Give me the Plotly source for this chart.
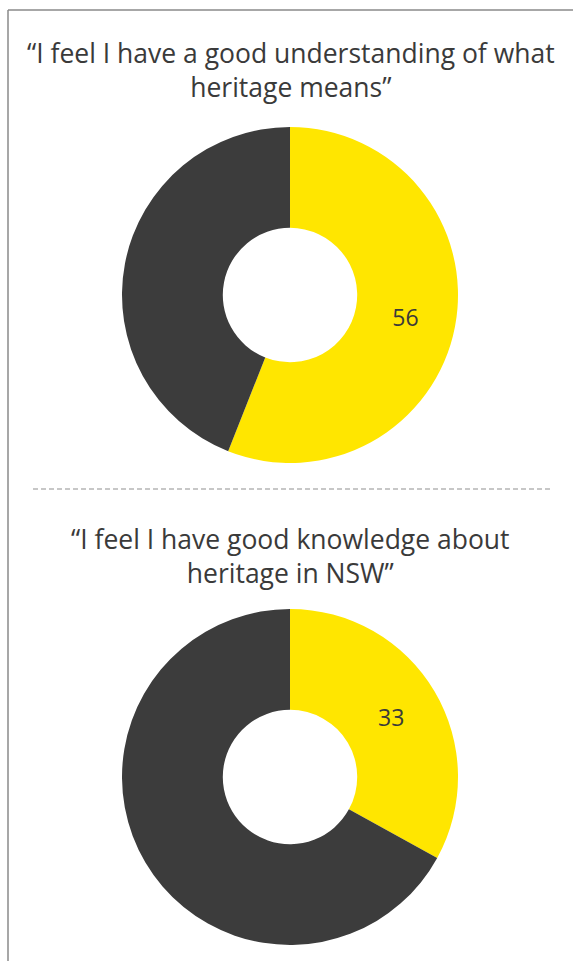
import plotly.graph_objects as go

# Survey responses: share agreeing vs. the rest (%)
questions = [
    "“I feel I have a good understanding of what<br>heritage means”",
    "“I feel I have good knowledge about<br>heritage in NSW”",
]
agree = [56, 33]
rest = [44, 67]

YELLOW = "#FFE600"
DARK = "#3C3C3C"
TEXT = "#3A3A3A"

W, H = 573, 961

# Pie placement (pixel boxes converted to paper fractions)
pie_boxes = [(122, 127, 458, 463), (122, 609, 458, 945)]
title_y = [70, 556]

fig = go.Figure()
for i, (a, r) in enumerate(zip(agree, rest)):
    x0, y0, x1, y1 = pie_boxes[i]
    fig.add_trace(go.Pie(
        values=[a, r],
        labels=["Agree", "Other"],
        text=[str(a), ""],
        textinfo="text",
        insidetextorientation="horizontal",
        textfont=dict(family="Open Sans, sans-serif", size=23, color=TEXT),
        marker=dict(colors=[YELLOW, DARK], line=dict(width=0)),
        hole=0.4,
        sort=False,
        direction="clockwise",
        rotation=0,
        showlegend=False,
        hoverinfo="label+value",
        domain=dict(x=[x0 / W, x1 / W], y=[1 - y1 / H, 1 - y0 / H]),
    ))

annotations = []
for q, ty in zip(questions, title_y):
    annotations.append(dict(
        text=q, x=0.5 + 4 / W, y=1 - ty / H, xref="paper", yref="paper",
        xanchor="center", yanchor="middle", showarrow=False, align="center",
        font=dict(family="Open Sans, sans-serif", size=26.5, color=TEXT),
    ))

shapes = [
    # frame: left and top edges
    dict(type="line", xref="paper", yref="paper", x0=8 / W, x1=8 / W, y0=0, y1=1 - 10 / H,
         line=dict(color="#8A8A8A", width=1.5)),
    dict(type="line", xref="paper", yref="paper", x0=8 / W, x1=1, y0=1 - 10 / H, y1=1 - 10 / H,
         line=dict(color="#8A8A8A", width=1.5)),
    # divider between the two questions
    dict(type="line", xref="paper", yref="paper", x0=33 / W, x1=553 / W, y0=1 - 489 / H, y1=1 - 489 / H,
         line=dict(color="#8F8F8F", width=1.2, dash="5px,3px")),
]

fig.update_layout(
    width=W, height=H,
    margin=dict(l=0, r=0, t=0, b=0),
    paper_bgcolor="white", plot_bgcolor="white",
    annotations=annotations, shapes=shapes,
)

fig.write_html("out.html")
